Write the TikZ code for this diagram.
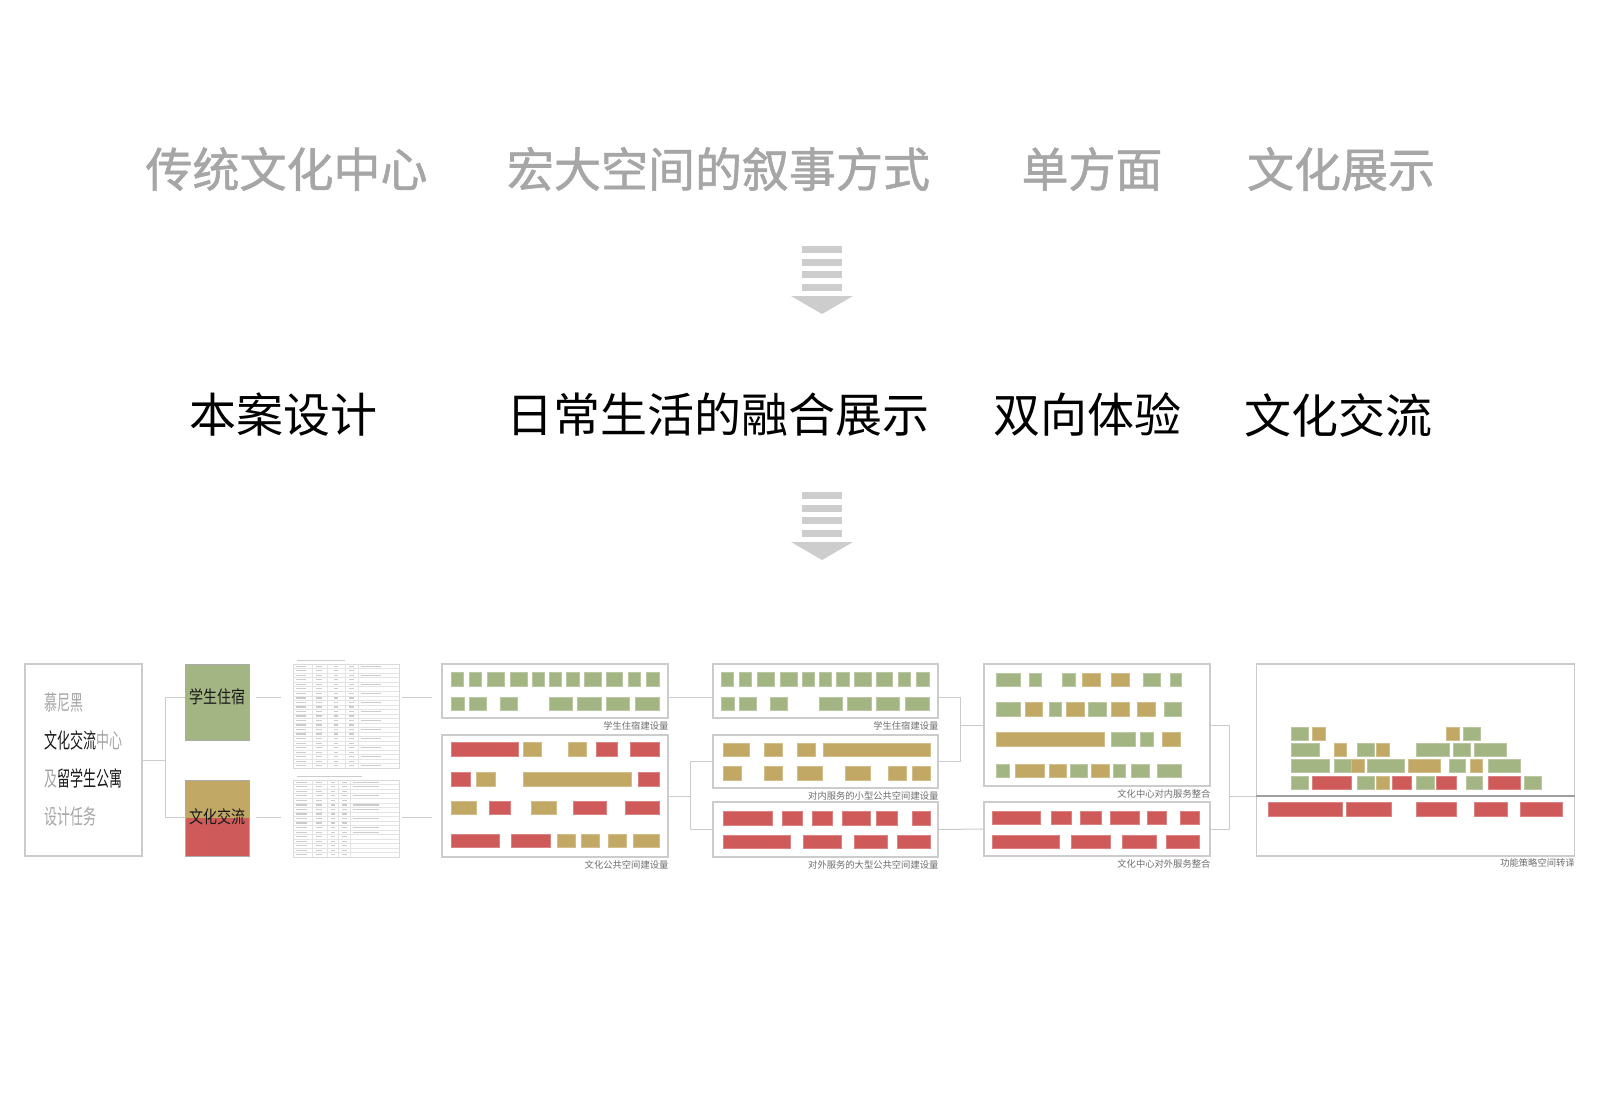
\documentclass[tikz,border=0pt]{standalone}
\usepackage{fontspec}
\newfontfamily\cjk{Noto Sans CJK SC}
\newfontfamily\cjkheavy[FakeBold=1.2]{Noto Sans CJK SC}
\newfontfamily\cjknarrow[FakeStretch=0.62]{Noto Sans CJK SC}
\newfontfamily\cjkslim[FakeStretch=0.8]{Noto Sans CJK SC}
\usepackage{tikz}
\usetikzlibrary{positioning}
\definecolor{grn}{HTML}{A4B584}
\definecolor{gld}{HTML}{C2A865}
\definecolor{rd}{HTML}{CF5A5A}
\definecolor{framegray}{HTML}{CCCCCC}
\definecolor{txtgray}{HTML}{A6A6A6}
\definecolor{notegray}{HTML}{6E6E6E}
\definecolor{arrowgray}{HTML}{CDCDCD}
\tikzstyle{frame} = [rectangle, draw=framegray, line width=1.2pt, inner sep=0pt]
\tikzstyle{tabframe} = [rectangle, draw=gray!30, line width=0.5pt, inner sep=0pt]
\tikzstyle{tabline} = [draw=gray!22, line width=0.3pt]
\tikzstyle{tabtext} = [draw=gray!40, line width=1.2pt]
\tikzstyle{link} = [draw=framegray, line width=1pt]
\tikzstyle{ground} = [draw=gray!75, line width=2pt]
\tikzstyle{blk} = [line width=0.6pt]
\tikzstyle{oldidea} = [font=\cjkheavy\fontsize{47}{47}\selectfont, text=txtgray, inner sep=0pt]
\tikzstyle{newidea} = [font=\cjk\fontsize{47}{47}\selectfont, text=black, inner sep=0pt]
\tikzstyle{boxlabel} = [font=\cjkslim\fontsize{17.5}{18}\selectfont, text=black!90, inner sep=0pt]
\tikzstyle{note} = [font=\cjk\fontsize{9.3}{10}\selectfont, text=notegray, inner sep=0pt]
\newcommand{\blkrow}[3]{\foreach \a/\b/\c in {#3} \fill[blk, fill=\c, draw=\c!75!white] (\a,#1) rectangle (\b,#2);}

\begin{document}
\begin{tikzpicture}[x=1pt, y=-1pt]
  \fill[white] (0,0) rectangle (1600,1100);
  \useasboundingbox (0,0) rectangle (1600,1100);

  % Ideas
  \node (oldhall) [oldidea] at (286.5,169) {传统文化中心};
  \node (oldspace) [oldidea] at (718.5,169) {宏大空间的叙事方式};
  \node (oldside) [oldidea] at (1092,169) {单方面};
  \node (oldshow) [oldidea] at (1341,169) {文化展示};

  \node (newdesign) [newidea] at (283.5,415) {本案设计};
  \node (newlife) [newidea] at (717.5,415) {日常生活的融合展示};
  \node (newtwo) [newidea] at (1087,415) {双向体验};
  \node (newswap) [newidea] at (1338.5,415) {文化交流};

  % Down arrows
  \foreach \dy in {0,246} {
    \foreach \by in {246,258.5,271,283.5}
      \fill[arrowgray] (802,\by+\dy) rectangle (842,\by+\dy+7);
    \fill[arrowgray] (791,296+\dy) -- (853,296+\dy) -- (822,314+\dy) -- cycle;
  }

  % Brief and programme
  \node (brief) [frame, minimum width=117pt, minimum height=192pt] at (83.5,760) {};
  \node (brieftxt) [anchor=west, align=left, inner sep=0pt, font=\cjknarrow\fontsize{21}{38.3}\selectfont, text=black!90] at (44,759.5)
    {\textcolor{txtgray}{慕尼黑}\\文化交流\textcolor{txtgray}{中心}\\\textcolor{txtgray}{及}留学生公寓\\\textcolor{txtgray}{设计任务}};
  \node (dorm) [frame, draw=gray!65, line width=1pt, fill=grn, minimum width=64pt, minimum height=76pt] at (217,702) {};
  \node (dormtxt) [boxlabel] at (217,697) {学生住宿};
  \node (culture) [frame, draw=gray!65, line width=1pt, minimum width=64pt, minimum height=76pt,
    path picture={\fill[gld] (path picture bounding box.north west) rectangle (path picture bounding box.east);
                  \fill[rd] (path picture bounding box.west) rectangle (path picture bounding box.south east);}] at (217,818) {};
  \node (culttxt) [boxlabel] at (217,817) {文化交流};

  % Area tables
  \node (tabdorm) [tabframe, minimum width=106pt, minimum height=104pt] at (346,716) {};
  \node (tabcult) [tabframe, minimum width=106pt, minimum height=77pt] at (346,818.5) {};
  \draw[tabtext] (297,660.5) -- (345,660.5) (297,776.5) -- (362,776.5);
  \foreach \i in {1,...,22} \draw[tabline] (293,664+\i*4.52) -- (399,664+\i*4.52);
  \foreach \x in {312,327,345,358} \draw[tabline] (\x,664) -- (\x,768);
  \foreach \i in {0,...,22} {
    \pgfmathsetmacro{\ty}{664+(\i+0.5)*4.52}
    \draw[tabtext] (296,\ty) -- (306,\ty) (316,\ty) -- (322,\ty) (334,\ty) -- (338,\ty) (349,\ty) -- (354,\ty);
  }
  \foreach \i in {0,2,...,22} {
    \pgfmathsetmacro{\ty}{664+(\i+0.5)*4.52}
    \draw[tabtext] (361,\ty) -- (381,\ty);
  }
  \foreach \i in {1,...,16} \draw[tabline] (293,780+\i*4.53) -- (399,780+\i*4.53);
  \foreach \x in {312,327,338,350} \draw[tabline] (\x,780) -- (\x,857);
  \foreach \i in {0,...,16} {
    \pgfmathsetmacro{\ty}{780+(\i+0.5)*4.53}
    \draw[tabtext] (296,\ty) -- (307,\ty) (316,\ty) -- (322,\ty) (331,\ty) -- (335,\ty) (342,\ty) -- (347,\ty);
  }
  \foreach \i in {0,1,3,5,6,8,10,11} {
    \pgfmathsetmacro{\ty}{780+(\i+0.5)*4.53}
    \draw[tabtext] (353,\ty) -- (379,\ty);
  }

  % Quantity boxes
  \node (dormqty) [frame, minimum width=226pt, minimum height=54pt] at (555,691) {};
  \node (cultqty) [frame, minimum width=226pt, minimum height=122pt] at (555,796) {};
  \node (dormqtyb) [frame, minimum width=225pt, minimum height=54pt] at (825.5,691) {};
  \node (innersmall) [frame, minimum width=225pt, minimum height=53pt] at (825.5,761.5) {};
  \node (outerlarge) [frame, minimum width=225pt, minimum height=55pt] at (825.5,829.5) {};
  \node (innerall) [frame, minimum width=226pt, minimum height=122pt] at (1097,725) {};
  \node (outerall) [frame, minimum width=226pt, minimum height=54pt] at (1097,829) {};
  \node (translate) [frame, minimum width=317.6pt, minimum height=192pt] at (1415.5,760) {};

  % Notes
  \node (dormqtynote) [note, below left=3pt and 0pt of dormqty.south east] {学生住宿建设量};
  \node (cultqtynote) [note, below left=3pt and 0pt of cultqty.south east] {文化公共空间建设量};
  \node (dormqtybnote) [note, below left=3pt and 0pt of dormqtyb.south east] {学生住宿建设量};
  \node (innersmallnote) [note, below left=3pt and 0pt of innersmall.south east] {对内服务的小型公共空间建设量};
  \node (outerlargenote) [note, below left=3pt and 0pt of outerlarge.south east] {对外服务的大型公共空间建设量};
  \node (innerallnote) [note, below left=3pt and 0pt of innerall.south east] {文化中心对内服务整合};
  \node (outerallnote) [note, below left=3pt and 0pt of outerall.south east] {文化中心对外服务整合};
  \node (translatenote) [note, below left=2pt and 0pt of translate.south east] {功能策略空间转译};

  % Blocks
  \foreach \dx in {0,270} {
    \begin{scope}[xshift=\dx pt]
      \blkrow{672}{686}{451.7/463.3/grn, 469/481/grn, 487.3/504.3/grn, 510.7/527.3/grn, 532.7/544/grn, 549.3/561.7/grn, 566.7/579/grn, 584/601.7/grn, 606.7/622.7/grn, 628.3/640/grn, 646.7/659/grn}
      \blkrow{697}{710}{451.7/464/grn, 469.3/486.7/grn, 500/517.3/grn, 549/572.3/grn, 577.7/601.7/grn, 606/629.3/grn, 635/659/grn}
    \end{scope}
  }
  \blkrow{742.7}{756}{451/518.3/rd, 523.3/541.7/gld, 568.3/586.7/gld, 596.7/617.3/rd, 630/659/rd}
  \blkrow{772.7}{786}{451/470/rd, 476.7/495/gld, 523.3/631.7/gld, 638.3/659/rd}
  \blkrow{801}{814.3}{451/476.7/gld, 489.3/510/rd, 531/556.7/gld, 573.3/606.7/rd, 625/659/rd}
  \blkrow{834}{847.3}{451/499.3/rd, 511.7/550.7/rd, 557.3/575/gld, 581/599/gld, 608.3/626.7/gld, 633.3/659/gld}

  \blkrow{743.3}{756.7}{723.3/749/gld, 764/782.3/gld, 797.3/815.7/gld, 823.3/930.7/gld}
  \blkrow{766.7}{780}{723.3/741.7/gld, 764/782.3/gld, 797.3/822.7/gld, 845.7/870.7/gld, 888.3/906.7/gld, 912.7/930.7/gld}
  \blkrow{811.7}{825}{723.3/772.3/rd, 782.3/802.7/rd, 812.3/832.7/rd, 842.3/870.7/rd, 876.7/897.3/rd, 912.3/930.7/rd}
  \blkrow{835}{848.3}{723.3/790/rd, 803.3/841.7/rd, 854/887.3/rd, 897.3/930.7/rd}

  \blkrow{673.3}{686}{996/1020/grn, 1029/1041.7/grn, 1062.3/1075.7/grn, 1082.7/1100.7/gld, 1111.7/1129.3/gld, 1143.3/1160/grn, 1170/1181/grn}
  \blkrow{702.7}{716}{996/1020/grn, 1025/1042.7/gld, 1049/1061.7/grn, 1066.7/1084/gld, 1088.3/1106/grn, 1111.7/1129.3/gld, 1137.3/1155/gld, 1164/1181/grn}
  \blkrow{732.7}{746.7}{996/1104.3/gld, 1111/1135/grn, 1140.7/1153.3/grn, 1162.7/1180.7/gld}
  \blkrow{764.3}{777.3}{996/1009/grn, 1015.7/1044/gld, 1049/1066.7/gld, 1070/1087.7/grn, 1091.7/1109/gld, 1113.3/1125.7/grn, 1131/1149/grn, 1157.3/1181/grn}
  \blkrow{811.7}{824.3}{992.3/1040.7/rd, 1051/1071/rd, 1080.7/1101.7/rd, 1110.7/1139.3/rd, 1147.3/1166/rd, 1180.7/1199.3/rd}
  \blkrow{835}{848.3}{992.3/1059/rd, 1071.7/1110.7/rd, 1122.3/1156/rd, 1166/1199.3/rd}

  \blkrow{727.7}{740.7}{1291.7/1308.3/grn, 1312.7/1325/gld, 1446.7/1459.3/gld, 1463.3/1480/grn}
  \blkrow{743.3}{756.7}{1291.7/1319/grn, 1334.3/1346.7/gld, 1357.3/1374/grn, 1376.7/1389.3/gld, 1416.7/1449/grn, 1453.3/1470/grn, 1474.3/1506/grn}
  \blkrow{759.3}{772.7}{1291.7/1329/grn, 1334.3/1351.7/grn, 1351.7/1364/gld, 1367.3/1404.3/grn, 1408.3/1440.7/gld, 1449/1465.7/grn, 1470/1482.7/gld, 1488.3/1520/grn}
  \blkrow{776}{789.3}{1291.7/1308.3/grn, 1312.3/1351/rd, 1357.3/1374/grn, 1376.7/1389.3/gld, 1392.3/1411.7/rd, 1416.7/1434/grn, 1436.7/1456.7/rd, 1466/1482.7/grn, 1488.3/1520/rd, 1524.3/1541/grn}
  \blkrow{802.7}{816}{1268.3/1342.3/rd, 1346/1391.7/rd, 1416.7/1456.7/rd, 1474.3/1507.7/rd, 1520.7/1562.3/rd}

  % Connectors
  \coordinate (split1) at (165,760);
  \coordinate (split2) at (690,796);
  \coordinate (split3) at (960,725);
  \coordinate (split4) at (1229,796);
  \draw[link] (brief.east) -- (split1);
  \draw[link] (dormtxt -| dorm.west) -| (split1);
  \draw[link] (culttxt -| culture.west) -| (split1);
  \draw[link, shorten <=6pt, shorten >=12pt] (dormtxt -| dorm.east) -- (dormtxt -| tabdorm.west);
  \draw[link, shorten <=6pt, shorten >=12pt] (culttxt -| culture.east) -- (culttxt -| tabcult.west);
  \draw[link, shorten <=3pt, shorten >=9pt] (dormtxt -| tabdorm.east) -- (dormtxt -| dormqty.west);
  \draw[link, shorten <=3pt, shorten >=9pt] (culttxt -| tabcult.east) -- (culttxt -| cultqty.west);
  \draw[link] (dormtxt -| dormqty.east) -- (dormtxt -| dormqtyb.west);
  \draw[link] (cultqty.east) -- (split2);
  \draw[link] (innersmall.west) -| (split2);
  \draw[link] (outerlarge.west) -| (split2);
  \draw[link] (dormtxt -| dormqtyb.east) -| (split3);
  \draw[link] (innersmall.east) -| (split3);
  \draw[link] (split3) -- (innerall.west);
  \draw[link] (outerlarge.east) -- (outerall.west);
  \draw[link] (innerall.east) -| (split4);
  \draw[link] (outerall.east) -| (split4);
  \draw[link] (split4) -- (split4 -| translate.west);
  \draw[ground] (split4 -| translate.west) -- (split4 -| translate.east);

\end{tikzpicture}
\end{document}
